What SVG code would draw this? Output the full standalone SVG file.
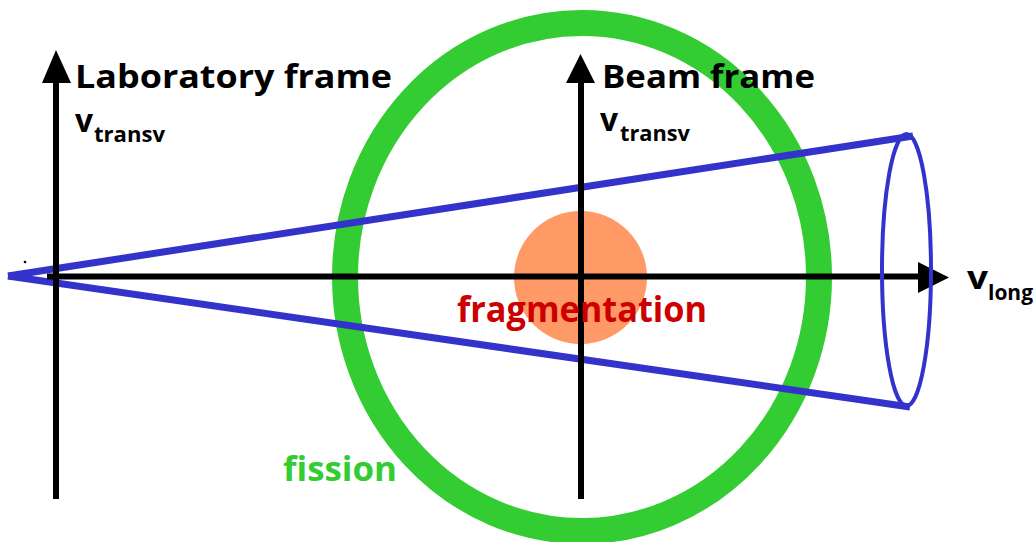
<svg xmlns="http://www.w3.org/2000/svg" width="1034" height="542" viewBox="0 0 1034 542">
<defs>
<style>
.t{font-family:"Comic Sans MS","Open Sans","DejaVu Sans",sans-serif;font-weight:bold}
.ax{stroke:#000;stroke-width:6;fill:none}
.bl{stroke:#3333cc;stroke-width:7;fill:none}
</style>
</defs>
<rect width="1034" height="542" fill="#fff"/>
<g id="fission">
<ellipse cx="582" cy="277" rx="237" ry="254" fill="none" stroke="#33cc33" stroke-width="26"/>
<text class="t" x="283" y="481" font-size="34" fill="#33cc33" textLength="114" lengthAdjust="spacingAndGlyphs">fission</text>
</g>
<g id="fragmentation">
<circle cx="580.5" cy="277.5" r="66.5" fill="#ff9966"/>
</g>
<g id="connectors">
<path class="bl" d="M8,276 L913,136"/>
<path class="bl" d="M8,276 L910,407"/>
<path class="ax" d="M47,276.5 H920"/>
<polygon points="918,262 949,277.5 918,293" fill="#000"/>
<path class="ax" d="M56,499 V80"/>
<polygon points="42,83 56,50 71,83" fill="#000"/>
<path class="ax" d="M581,499 V80"/>
<polygon points="566,83 580.5,54 595,83" fill="#000"/>
<ellipse cx="906.5" cy="270" rx="24.5" ry="136" fill="none" stroke="#3333cc" stroke-width="4"/>
<circle cx="25" cy="262" r="1.3" fill="#000"/>
</g>
<g id="lab-frame">
<text class="t" x="75" y="88" font-size="33" fill="#000" textLength="317" lengthAdjust="spacingAndGlyphs">Laboratory frame</text>
<text class="t" x="75" y="132" font-size="32" fill="#000" textLength="18" lengthAdjust="spacingAndGlyphs">v</text>
<text class="t" x="94" y="142" font-size="22" fill="#000" textLength="71" lengthAdjust="spacingAndGlyphs">transv</text>
</g>
<g id="beam-frame">
<text class="t" x="602" y="88" font-size="33" fill="#000" textLength="213" lengthAdjust="spacingAndGlyphs">Beam frame</text>
<text class="t" x="600" y="131" font-size="32" fill="#000" textLength="18" lengthAdjust="spacingAndGlyphs">v</text>
<text class="t" x="620" y="141" font-size="22" fill="#000" textLength="70" lengthAdjust="spacingAndGlyphs">transv</text>
</g>
<g id="v-long">
<text class="t" x="967" y="289" font-size="32" fill="#000" textLength="21" lengthAdjust="spacingAndGlyphs">v</text>
<text class="t" x="988" y="300" font-size="22" fill="#000" textLength="45" lengthAdjust="spacingAndGlyphs">long</text>
</g>
<g id="fragmentation-label">
<text class="t" x="457" y="322" font-size="35" fill="#cc0000" textLength="250" lengthAdjust="spacingAndGlyphs">fragmentation</text>
</g>
</svg>
